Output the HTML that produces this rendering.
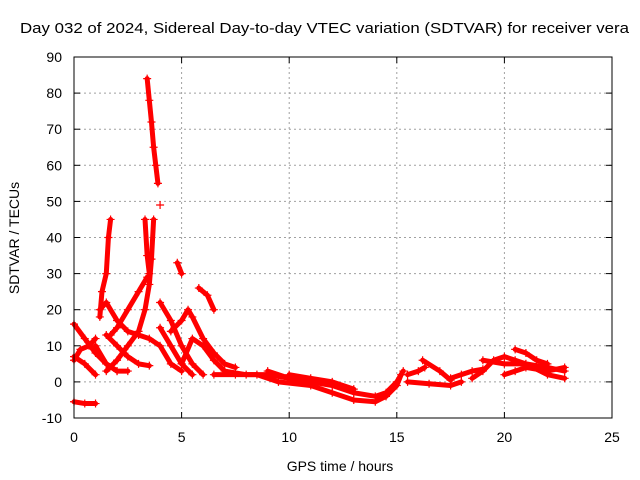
<!DOCTYPE html>
<html><head><meta charset="utf-8"><style>
body{margin:0;background:#fff;}
svg{display:block;font-family:"Liberation Sans",sans-serif;}
</style></head><body>
<svg id="chart" width="640" height="480">
<text x="20" y="33" font-size="15" textLength="609" lengthAdjust="spacingAndGlyphs">Day 032 of 2024, Sidereal Day-to-day VTEC variation (SDTVAR) for receiver vera</text>
<text x="340" y="471" font-size="14" text-anchor="middle">GPS time / hours</text>
<text transform="translate(19,238) rotate(-90)" font-size="14" text-anchor="middle">SDTVAR / TECUs</text>
<g id="grid"></g>
<g id="ticks"></g>
<g id="series"></g>
<rect x="74" y="57" width="538" height="361" fill="none" stroke="#000"/>
</svg>
<script>
const xTicks=[0,5,10,15,20,25];
const yTicks=[-10,0,10,20,30,40,50,60,70,80,90];
const track1=[[0,16],[0.5,12],[1,8],[1.5,5],[2,3]];
const track2=[[0,6],[0.3,9],[0.7,10],[1,12]];
const track3=[[0,7],[0.5,5],[1,2]];
const track4=[[0,-5.5],[0.5,-6],[1,-6]];
const track5=[[1.2,18],[1.3,25],[1.5,30],[1.6,40],[1.7,45]];
const track6=[[1.2,20],[1.5,22],[2,17],[2.5,14],[3,13],[3.5,12],[4,10],[4.5,5],[5,3]];
const track7=[[1,10],[1.5,5],[2,3],[2.5,3]];
const track8=[[1.5,3],[2,6],[2.5,10],[3,14],[3.3,20],[3.5,27],[3.6,34],[3.7,45]];
const track9=[[1.5,13],[2,10],[2.5,7],[3,5],[3.5,4.5]];
const track10=[[3.4,84],[3.5,78],[3.6,72],[3.7,65],[3.8,60],[3.9,55]];
const track11=[[3.3,45],[3.4,35],[3.5,30]];
const track12=[[4,49]];
const track13=[[1.7,13],[2,15],[2.5,20],[3,25],[3.4,29]];
const track14=[[4,22],[4.5,17],[5,10],[5.5,5],[6,2]];
const track15=[[4,15],[4.5,10],[5,5],[5.5,2]];
const track16=[[4.8,33],[5,30]];
const track17=[[4.5,14],[5,17],[5.3,20],[5.5,18],[6,12],[6.5,8],[7,5],[7.5,4]];
const track18=[[5.8,26],[6.2,24],[6.5,20]];
const track19=[[5,5],[5.5,12],[6,10],[6.5,6],[7,3],[8,2],[9,2],[10,1]];
const track20=[[6.5,2],[7.5,2],[8.5,2],[9.5,0],[11,-1],[12,-3],[13,-5],[14,-5.5],[14.5,-4],[15,-1],[15.2,2]];
const track21=[[9,3],[10,1],[11,0],[12,-1],[13,-3],[14,-4],[14.5,-3],[15,0],[15.3,3]];
const track22=[[10,2],[11,1],[12,0],[13,-2]];
const track23=[[15.5,2],[16,3],[16.3,4]];
const track24=[[15.5,0],[16.5,-0.5],[17.5,-1],[18,0]];
const track25=[[16.2,6],[17,3],[17.5,0.5]];
const track26=[[17.5,1],[18,2],[18.5,3],[19,3.5]];
const track27=[[18.5,1],[19,3],[19.5,6],[20,7],[20.5,6],[21,5],[22,4],[22.8,3]];
const track28=[[19,6],[20,5],[21,5],[22,2],[22.8,1]];
const track29=[[20,2],[20.5,3],[21,4],[22,3],[22.8,4]];
const track30=[[20.5,9],[21,8],[21.5,6],[22,5]];
const tracks=[track1,track2,track3,track4,track5,track6,track7,track8,track9,track10,track11,track12,track13,track14,track15,track16,track17,track18,track19,track20,track21,track22,track23,track24,track25,track26,track27,track28,track29,track30];

const X0=74,X1=612,Y0=418,Y1=57;
const sx=v=>X0+(v-0)/25*(X1-X0);
const sy=v=>Y0-(v+10)/100*(Y0-Y1);
const NS="http://www.w3.org/2000/svg";
const grid=document.getElementById('grid'),ticks=document.getElementById('ticks'),series=document.getElementById('series');
function mk(tag,attrs,parent){const e=document.createElementNS(NS,tag);for(const k in attrs)e.setAttribute(k,attrs[k]);parent.appendChild(e);return e;}
xTicks.forEach(t=>{
  const x=sx(t);
  if(t>0&&t<25){const g=mk('line',{x1:x,x2:x,y1:Y1,y2:Y0,stroke:'#a0a0a0','stroke-dasharray':'2,3'},grid);
  
  }
  mk('line',{x1:x,x2:x,y1:Y0,y2:Y0-6,stroke:'#000'},ticks);
  mk('line',{x1:x,x2:x,y1:Y1,y2:Y1+6,stroke:'#000'},ticks);
  const l=mk('text',{x:x,y:Y0+24,'font-size':14,'text-anchor':'middle'},ticks);l.textContent=t;
  
  
});
yTicks.forEach(t=>{
  const y=sy(t);
  if(t>-10&&t<90){const g=mk('line',{x1:X0,x2:X1,y1:y,y2:y,stroke:'#a0a0a0','stroke-dasharray':'2,3'},grid);
  
  }
  mk('line',{x1:X0,x2:X0+6,y1:y,y2:y,stroke:'#000'},ticks);
  mk('line',{x1:X1,x2:X1-6,y1:y,y2:y,stroke:'#000'},ticks);
  const l=mk('text',{x:X0-12,y:y+5,'font-size':14,'text-anchor':'end'},ticks);l.textContent=t;
  
  
});
tracks.forEach((tr,i)=>{
  const pts=tr.map(p=>sx(p[0])+','+sy(p[1])).join(' ');
  const pl=mk('polyline',{points:pts,fill:'none',stroke:'#ff0000','stroke-width':5,'stroke-linecap':'round','stroke-linejoin':'round'},series);
  
  
  tr.forEach(p=>{
    const x=sx(p[0]),y=sy(p[1]);
    const m=mk('path',{d:`M${x-4},${y}H${x+4}M${x},${y-4}V${y+4}`,stroke:'#ff0000','stroke-width':1.2},series);
    
    
  });
});
</script>
</body></html>
